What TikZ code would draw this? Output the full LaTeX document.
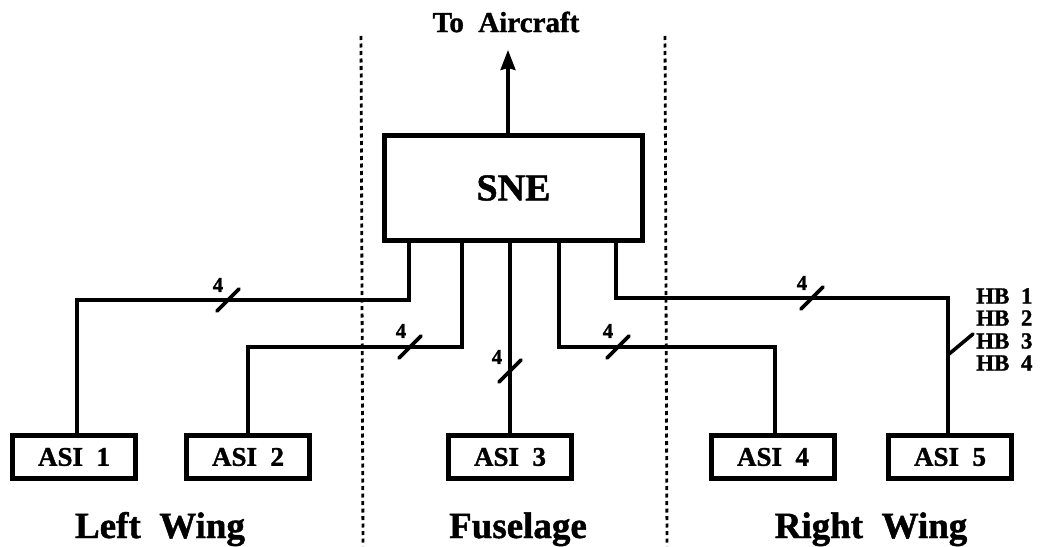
\documentclass[tikz,border=0pt]{standalone}
\usepackage{fontspec}
\setmainfont{Liberation Serif}[BoldFeatures={FakeBold=1.2}]
\usetikzlibrary{arrows.meta}
\tikzset{
  box/.style={draw,line width=5pt,inner sep=0pt,outer sep=0pt,font=\bfseries\fontsize{27}{27}\selectfont},
  asibox/.style={box,minimum width=123pt,minimum height=43pt},
  conn/.style={line width=3.2pt},
  slashm/.style={line width=3.6pt,line cap=round},
  sep/.style={line width=2.8pt,dash pattern=on 4pt off 3.5pt},
  num/.style={font=\bfseries\fontsize{21}{21}\selectfont,inner sep=0pt},
  region/.style={font=\bfseries\fontsize{37}{37}\selectfont,anchor=base,inner sep=0pt},
  hb/.style={font=\bfseries\fontsize{23}{23}\selectfont,anchor=west,inner sep=0pt}
}
\newcommand\busmark[1]{\draw[slashm] #1 ++(-11,11) -- ++(22,-22);}
\begin{document}
\begin{tikzpicture}[x=1pt,y=-1pt]
\useasboundingbox (0,0) rectangle (1041,546);
% separators
\draw[sep] (361,36) -- (363,546);
\draw[sep] (665,36) -- (667,546);
% SNE
\node[box,minimum width=258pt,minimum height=105pt,font=\bfseries\fontsize{38}{38}\selectfont] (sne) at (513.5,188) {SNE};
\node[font=\bfseries\fontsize{29}{29}\selectfont,inner sep=0pt] (air) at (506,22) {To\ \ Aircraft};
\draw[conn,-{Stealth[length=20pt,width=15pt,inset=2pt]}] (sne.north -| 508,0) -- (508,50);
% ASI boxes
\node[asibox] (a1) at (74,457) {ASI\ \ 1};
\node[asibox] (a2) at (248,457) {ASI\ \ 2};
\node[asibox] (a3) at (510,457) {ASI\ \ 3};
\node[asibox] (a4) at (773,457) {ASI\ \ 4};
\node[asibox] (a5) at (950,457) {ASI\ \ 5};
% connectors
\draw[conn] (sne.south -| 409,0) -- (409,300) -- (77,300) -- (a1.north -| 77,0);
\draw[conn] (sne.south -| 462,0) -- (462,347) -- (248,347) -- (a2.north);
\draw[conn] (sne.south -| 510,0) -- (a3.north);
\draw[conn] (sne.south -| 559,0) -- (559,347) -- (775,347) -- (a4.north -| 775,0);
\draw[conn] (sne.south -| 616,0) -- (616,298) -- (948,298) -- (a5.north -| 948,0);
% bus width marks
\busmark{(228,300)}
\node[num] (n1) at (218,285) {4};
\busmark{(410,347)}
\node[num] (n2) at (401,331) {4};
\busmark{(510,371)}
\node[num] (n3) at (497,357) {4};
\busmark{(618,347)}
\node[num] (n4) at (608,331) {4};
\busmark{(812,298)}
\node[num] (n5) at (802,283) {4};
\draw[slashm] (949,354) -- (973,334);
\node[hb] (hb1) at (976,296) {HB\ \ 1};
\node[hb] (hb2) at (976,318) {HB\ \ 2};
\node[hb] (hb3) at (976,341) {HB\ \ 3};
\node[hb] (hb4) at (976,363) {HB\ \ 4};
% region labels
\node[region] (lw) at (160,538) {Left\ \ Wing};
\node[region] (fu) at (518,538) {Fuselage};
\node[region] (rw) at (871,538) {Right\ \ Wing};
\end{tikzpicture}
\end{document}
